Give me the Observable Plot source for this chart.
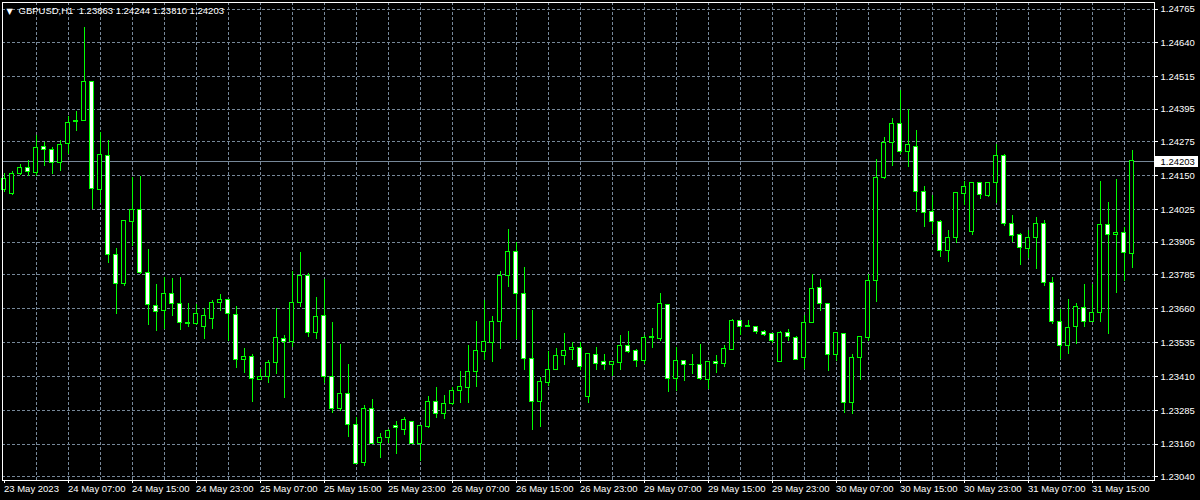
<!DOCTYPE html>
<html><head><meta charset="utf-8">
<script src="https://cdn.jsdelivr.net/npm/d3@7"></script>
<script src="https://cdn.jsdelivr.net/npm/@observablehq/plot@0.6"></script>
<style>
html,body{margin:0;padding:0;background:#000;overflow:hidden;}
</style></head><body><div id="chart"></div>
<script>
const symbol = "GBPUSD,H1";
const timeLabels = ["23 May 2023","24 May 07:00","24 May 15:00","24 May 23:00","25 May 07:00","25 May 15:00","25 May 23:00","26 May 07:00","26 May 15:00","26 May 23:00","29 May 07:00","29 May 15:00","29 May 23:00","30 May 07:00","30 May 15:00","30 May 23:00","31 May 07:00","31 May 15:00"];
const yTicks = [1.24765,1.24640,1.24515,1.24395,1.24275,1.24150,1.24025,1.23905,1.23785,1.23660,1.23535,1.23410,1.23285,1.23160,1.23040];

const open = [1.24097,1.24084,1.24156,1.24178,1.24159,1.24256,1.24244,1.24196,1.24266,1.24349,1.24351,1.24496,1.24099,1.24222,1.23857,1.23753,1.23981,1.24023,1.23791,1.23669,1.23651,1.23713,1.23676,1.23607,1.23603,1.23592,1.23621,1.23680,1.23691,1.23636,1.23470,1.23481,1.23396,1.23409,1.23459,1.23547,1.23536,1.23680,1.23780,1.23570,1.23632,1.23407,1.23289,1.23345,1.23230,1.23093,1.23289,1.23167,1.23182,1.23227,1.23212,1.23244,1.23163,1.23226,1.23315,1.23271,1.23308,1.23356,1.23369,1.23426,1.23502,1.23533,1.23610,1.23780,1.23868,1.23713,1.23474,1.23315,1.23388,1.23433,1.23485,1.23507,1.23514,1.23336,1.23488,1.23463,1.23452,1.23461,1.23522,1.23503,1.23469,1.23552,1.23549,1.23673,1.23402,1.23466,1.23453,1.23452,1.23399,1.23463,1.23455,1.23509,1.23614,1.23595,1.23594,1.23573,1.23566,1.23463,1.23570,1.23554,1.23477,1.23606,1.23735,1.23676,1.23488,1.23566,1.23312,1.23477,1.23551,1.23761,1.24141,1.24270,1.24342,1.24237,1.24258,1.24089,1.24016,1.23979,1.23872,1.23920,1.24084,1.23942,1.24122,1.24077,1.24122,1.24222,1.23971,1.23931,1.23879,1.23920,1.23971,1.23756,1.23613,1.23522,1.23594,1.23662,1.23613,1.23643,1.23968,1.23931,1.23938,1.23863];
const high = [1.24159,1.24165,1.24192,1.24207,1.24297,1.24272,1.24256,1.24281,1.24369,1.24389,1.24696,1.24496,1.24308,1.24282,1.23882,1.23982,1.24143,1.24149,1.23879,1.23748,1.23774,1.23771,1.23774,1.23681,1.23674,1.23662,1.23691,1.23711,1.23695,1.23670,1.23515,1.23492,1.23438,1.23470,1.23662,1.23560,1.23799,1.23866,1.23791,1.23703,1.23767,1.23611,1.23530,1.23453,1.23261,1.23302,1.23327,1.23201,1.23216,1.23243,1.23259,1.23246,1.23229,1.23335,1.23368,1.23341,1.23369,1.23427,1.23523,1.23614,1.23689,1.23633,1.23796,1.23954,1.23905,1.23814,1.23652,1.23406,1.23502,1.23514,1.23568,1.23534,1.23534,1.23495,1.23517,1.23490,1.23465,1.23560,1.23578,1.23511,1.23560,1.23586,1.23715,1.23674,1.23517,1.23468,1.23492,1.23527,1.23464,1.23486,1.23525,1.23621,1.23617,1.23617,1.23594,1.23581,1.23568,1.23578,1.23584,1.23558,1.23636,1.23787,1.23769,1.23680,1.23571,1.23570,1.23490,1.23556,1.23785,1.24211,1.24293,1.24363,1.24463,1.24395,1.24319,1.24111,1.24078,1.23987,1.23947,1.24087,1.24130,1.24124,1.24125,1.24127,1.24264,1.24227,1.24002,1.23939,1.23947,1.23995,1.23984,1.23777,1.23658,1.23695,1.23681,1.23748,1.23748,1.24131,1.24050,1.24138,1.23959,1.24244];
const low = [1.24088,1.24079,1.24153,1.24149,1.24149,1.24186,1.24156,1.24165,1.24227,1.24313,1.24349,1.24027,1.24049,1.23826,1.23640,1.23742,1.23891,1.23785,1.23599,1.23576,1.23583,1.23631,1.23581,1.23590,1.23600,1.23546,1.23583,1.23649,1.23541,1.23439,1.23421,1.23314,1.23394,1.23384,1.23417,1.23330,1.23519,1.23664,1.23554,1.23546,1.23384,1.23273,1.23281,1.23185,1.23087,1.23078,1.23158,1.23108,1.23163,1.23122,1.23192,1.23160,1.23096,1.23218,1.23256,1.23251,1.23305,1.23310,1.23310,1.23369,1.23468,1.23461,1.23509,1.23738,1.23545,1.23433,1.23212,1.23222,1.23372,1.23431,1.23452,1.23470,1.23431,1.23310,1.23431,1.23431,1.23409,1.23431,1.23495,1.23445,1.23455,1.23513,1.23541,1.23351,1.23355,1.23391,1.23416,1.23394,1.23362,1.23421,1.23443,1.23507,1.23561,1.23592,1.23566,1.23556,1.23533,1.23461,1.23540,1.23468,1.23437,1.23605,1.23649,1.23428,1.23465,1.23273,1.23270,1.23395,1.23539,1.23683,1.24138,1.24184,1.24227,1.24180,1.24014,1.23961,1.23934,1.23848,1.23830,1.23900,1.24039,1.23930,1.24061,1.24072,1.24048,1.23965,1.23904,1.23818,1.23846,1.23804,1.23742,1.23601,1.23474,1.23490,1.23528,1.23590,1.23608,1.23608,1.23565,1.23715,1.23759,1.23810];
const close = [1.24137,1.24156,1.24178,1.24163,1.24251,1.24244,1.24196,1.24263,1.24344,1.24352,1.24496,1.24100,1.24226,1.23857,1.23750,1.23982,1.24023,1.23793,1.23674,1.23648,1.23713,1.23676,1.23606,1.23605,1.23640,1.23632,1.23680,1.23691,1.23640,1.23470,1.23481,1.23400,1.23409,1.23459,1.23551,1.23538,1.23680,1.23780,1.23570,1.23630,1.23407,1.23289,1.23345,1.23230,1.23089,1.23289,1.23163,1.23182,1.23210,1.23219,1.23250,1.23163,1.23227,1.23315,1.23271,1.23308,1.23356,1.23370,1.23426,1.23503,1.23536,1.23610,1.23780,1.23868,1.23713,1.23474,1.23315,1.23390,1.23434,1.23485,1.23503,1.23514,1.23444,1.23492,1.23458,1.23452,1.23463,1.23522,1.23502,1.23469,1.23551,1.23555,1.23676,1.23402,1.23466,1.23452,1.23451,1.23402,1.23463,1.23455,1.23511,1.23614,1.23592,1.23593,1.23573,1.23562,1.23540,1.23570,1.23555,1.23472,1.23606,1.23732,1.23676,1.23488,1.23570,1.23312,1.23477,1.23555,1.23761,1.24141,1.24270,1.24342,1.24237,1.24265,1.24089,1.24012,1.23979,1.23872,1.23920,1.24086,1.24108,1.24122,1.24078,1.24122,1.24222,1.23971,1.23930,1.23883,1.23920,1.23971,1.23756,1.23613,1.23522,1.23590,1.23665,1.23613,1.23643,1.23968,1.23931,1.23938,1.23864,1.24203];

const bars = open.map((o, i) => ({i, open: o, high: high[i], low: low[i], close: close[i]}));
const last = bars[bars.length - 1];
const lastPrice = last.close;
const labelIdx = timeLabels.map((_, j) => j * 8);
const gridX = d3.range(4, bars.length, 4);
const fmt = d => d.toFixed(5);
const title = `${symbol}\u00a0\u00a0${fmt(last.open)} ${fmt(last.high)} ${fmt(last.low)} ${fmt(last.close)}`;

const GREEN = "#00ff00", GRID = "#778899";

const chart = Plot.plot({
  width: 1200, height: 500,
  marginLeft: 2, marginRight: 46, marginTop: 2, marginBottom: 20,
  style: "background:#000;color:#fff;font-family:'Liberation Sans',Arial,sans-serif;font-size:9.5px;shape-rendering:crispEdges;",
  x: {domain: [-0.1875, 143.8125], label: null},
  y: {domain: [1.23027, 1.24789], label: null},
  marks: [
    Plot.ruleX(gridX, {stroke: GRID, strokeDasharray: "3,2"}),
    Plot.ruleY(yTicks, {stroke: GRID, strokeDasharray: "3,2"}),
    Plot.ruleY([lastPrice], {stroke: GRID}),
    Plot.ruleX(bars, {x: "i", y1: "low", y2: "high", stroke: GREEN}),
    Plot.rect(bars, {x1: d => d.i - 0.25, x2: d => d.i + 0.25, y1: "open", y2: "close",
      fill: d => d.close >= d.open ? "#000000" : "#ffffff", stroke: GREEN}),
    Plot.axisY(yTicks, {anchor: "right", label: null, tickSize: 3, tickPadding: 3, tickFormat: fmt}),
    Plot.axisX(labelIdx, {anchor: "bottom", label: null, tickSize: 3, tickPadding: 2, textAnchor: "start", dx: 0,
      tickFormat: d => timeLabels[d / 8]}),
    Plot.frame({stroke: "#ffffff"}),
    Plot.ruleY([lastPrice], {stroke: "#ffffff", strokeWidth: 11, insetLeft: 1153, insetRight: -44}),
    Plot.text([lastPrice], {y: d => d, frameAnchor: "right", dx: 6, textAnchor: "start", text: fmt, fill: "#000000"}),
    Plot.text(["\u25BC"], {frameAnchor: "top-left", dx: 4, dy: 6, fontSize: 8, fill: "#ffffff", fontFamily: "DejaVu Sans"}),
    Plot.text([title], {frameAnchor: "top-left", dx: 16, dy: 5, textAnchor: "start", fill: "#ffffff"})
  ]
});
document.getElementById("chart").appendChild(chart);
</script></body></html>
